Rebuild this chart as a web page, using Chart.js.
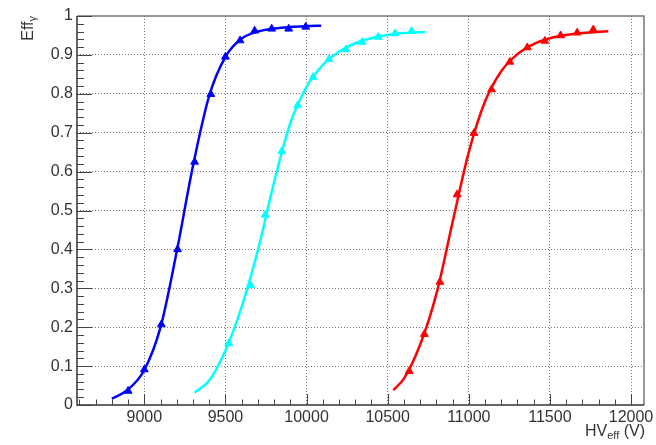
<!DOCTYPE html>
<html>
<head>
<meta charset="utf-8">
<script src="https://cdn.jsdelivr.net/npm/chart.js@4.4.1/dist/chart.umd.min.js"></script>
<style>
  html, body { margin: 0; padding: 0; background: #fff; }
  #wrap { width: 656px; height: 445px; }
</style>
</head>
<body>
<div id="wrap"><canvas id="effChart"></canvas></div>
<script>
// measured points (HV_eff in V, efficiency)
const blueHV  = [8900, 9000, 9105, 9205, 9310, 9410, 9500, 9590, 9680, 9785, 9890, 9995];
const blueEff = [0.036, 0.091, 0.207, 0.400, 0.625, 0.799, 0.895, 0.937, 0.962, 0.967, 0.967, 0.972];
const cyanHV  = [9520, 9655, 9745, 9847, 9945, 10041, 10138, 10243, 10343, 10442, 10545, 10647];
const cyanEff = [0.158, 0.308, 0.489, 0.652, 0.770, 0.843, 0.889, 0.914, 0.933, 0.946, 0.955, 0.961];
const redHV   = [10633, 10726, 10822, 10928, 11032, 11140, 11253, 11361, 11469, 11566, 11668, 11767];
const redEff  = [0.087, 0.182, 0.316, 0.541, 0.699, 0.811, 0.882, 0.919, 0.936, 0.950, 0.957, 0.965];

// fitted curves
const blueFitHV  = [8800, 8900, 9000, 9100, 9200, 9300, 9400, 9500, 9600, 9700, 9800, 9900, 10000, 10090];
const blueFitEff = [0.016, 0.040, 0.090, 0.200, 0.395, 0.615, 0.795, 0.895, 0.942, 0.960, 0.968, 0.972, 0.974, 0.975];
const cyanFitHV  = [9310, 9400, 9500, 9600, 9700, 9800, 9900, 10000, 10100, 10200, 10300, 10400, 10500, 10600, 10730];
const cyanFitEff = [0.032, 0.063, 0.140, 0.252, 0.398, 0.573, 0.725, 0.818, 0.874, 0.908, 0.930, 0.943, 0.951, 0.956, 0.959];
const redFitHV   = [10535, 10600, 10700, 10800, 10900, 11000, 11100, 11200, 11300, 11400, 11500, 11600, 11700, 11860];
const redFitEff  = [0.038, 0.068, 0.155, 0.285, 0.470, 0.650, 0.780, 0.858, 0.902, 0.928, 0.943, 0.951, 0.956, 0.961];

const xTicks = [9000, 9500, 10000, 10500, 11000, 11500, 12000];
const yTicks = [0, 0.1, 0.2, 0.3, 0.4, 0.5, 0.6, 0.7, 0.8, 0.9, 1];

const pairs = (xs, ys) => xs.map((v, i) => ({ x: v, y: ys[i] }));

function fitSet(xs, ys, color) {
    return {
        data: pairs(xs, ys),
        borderColor: color,
        borderWidth: 2.5,
        pointRadius: 0,
        showLine: true,
        cubicInterpolationMode: 'monotone',
        fill: false
    };
}

function pointSet(xs, ys, color) {
    return {
        data: pairs(xs, ys),
        showLine: false,
        pointStyle: 'triangle',
        pointRadius: 4.5,
        pointBackgroundColor: color,
        pointBorderColor: color,
        pointBorderWidth: 1
    };
}

// ROOT-like frame, inner ticks and axis titles
const rootFrame = {
    id: 'rootFrame',
    afterDraw(chart) {
        const { ctx, chartArea: a, scales } = chart;
        const x = scales.x, y = scales.y;
        ctx.save();

        ctx.lineWidth = 1.5;
        ctx.strokeStyle = '#777';
        ctx.beginPath();
        ctx.moveTo(a.left, a.top);
        ctx.lineTo(a.right, a.top);
        ctx.lineTo(a.right, a.bottom);
        ctx.stroke();

        ctx.strokeStyle = '#333';
        ctx.beginPath();
        ctx.moveTo(a.left, a.top);
        ctx.lineTo(a.left, a.bottom);
        ctx.lineTo(a.right, a.bottom);
        ctx.stroke();

        ctx.lineWidth = 1;
        ctx.strokeStyle = '#444';
        ctx.beginPath();
        for (let v = 8600; v <= 12000; v += 100) {
            const px = Math.round(x.getPixelForValue(v)) + 0.5;
            const len = v % 500 === 0 ? 11 : 5.5;
            ctx.moveTo(px, a.bottom);
            ctx.lineTo(px, a.bottom - len);
        }
        for (let i = 0; i <= 50; i++) {
            const py = Math.round(y.getPixelForValue(i / 50)) + 0.5;
            const len = i % 5 === 0 ? 15 : 7;
            ctx.moveTo(a.left, py);
            ctx.lineTo(a.left + len, py);
        }
        ctx.stroke();

        // axis titles
        ctx.fillStyle = '#333';
        ctx.textBaseline = 'alphabetic';
        const big = '16px "Liberation Sans", Arial, sans-serif';
        const small = '11px "Liberation Sans", Arial, sans-serif';

        ctx.font = big;
        const wHV = ctx.measureText('HV').width;
        const wV = ctx.measureText(' (V)').width;
        ctx.font = small;
        const wEff = ctx.measureText('eff').width;
        let tx = 645 - (wHV + wEff + wV);
        const ty = 436;
        ctx.textAlign = 'left';
        ctx.font = big;
        ctx.fillText('HV', tx, ty);
        ctx.font = small;
        ctx.fillText('eff', tx + wHV, ty + 3);
        ctx.font = big;
        ctx.fillText(' (V)', tx + wHV + wEff, ty);

        ctx.translate(33, 16);
        ctx.rotate(-Math.PI / 2);
        ctx.font = small;
        const wG = ctx.measureText('γ').width;
        ctx.font = big;
        const wE = ctx.measureText('Eff').width;
        ctx.fillText('Eff', -(wE + wG), 0);
        ctx.font = small;
        ctx.fillText('γ', -wG, 3);

        ctx.restore();
    }
};

const ctx = document.getElementById('effChart').getContext('2d');

new Chart(ctx, {
    type: 'scatter',
    data: {
        datasets: [
            fitSet(blueFitHV, blueFitEff, '#0000ff'),
            fitSet(cyanFitHV, cyanFitEff, '#00ffff'),
            fitSet(redFitHV, redFitEff, '#ff0000'),
            pointSet(blueHV, blueEff, '#0000ff'),
            pointSet(cyanHV, cyanEff, '#00ffff'),
            pointSet(redHV, redEff, '#ff0000')
        ]
    },
    options: {
        responsive: true,
        maintainAspectRatio: false,
        animation: false,
        layout: {
            padding: { left: 0, top: 16, right: 12, bottom: 0 }
        },
        scales: {
            x: {
                type: 'linear',
                min: 8585,
                max: 12080,
                afterBuildTicks: (scale) => {
                    scale.ticks = xTicks.map(v => ({ value: v }));
                },
                afterFit: (scale) => {
                    scale.height = 40;
                    scale.paddingLeft = 0;
                    scale.paddingRight = 0;
                },
                border: { display: false, dash: [1, 2] },
                grid: {
                    drawTicks: false,
                    color: 'rgba(0,0,0,0.55)',
                    lineWidth: 1
                },
                ticks: {
                    padding: 3,
                    color: '#333',
                    font: { family: '"Liberation Sans", Arial, sans-serif', size: 16 },
                    callback: (v) => String(v)
                }
            },
            y: {
                type: 'linear',
                min: 0,
                max: 1,
                afterBuildTicks: (scale) => {
                    scale.ticks = yTicks.map(v => ({ value: v }));
                },
                afterFit: (scale) => {
                    scale.width = 77;
                    scale.paddingTop = 0;
                    scale.paddingBottom = 0;
                },
                border: { display: false, dash: [1, 2] },
                grid: {
                    drawTicks: false,
                    color: (c) => (c.tick && (c.tick.value === 0 || c.tick.value === 1)) ? 'rgba(0,0,0,0)' : 'rgba(0,0,0,0.55)',
                    lineWidth: 1
                },
                ticks: {
                    padding: 4,
                    color: '#333',
                    font: { family: '"Liberation Sans", Arial, sans-serif', size: 16 },
                    callback: (v) => String(Math.round(v * 10) / 10)
                }
            }
        },
        plugins: {
            legend: { display: false },
            tooltip: { enabled: false }
        }
    },
    plugins: [rootFrame]
});
</script>
</body>
</html>
